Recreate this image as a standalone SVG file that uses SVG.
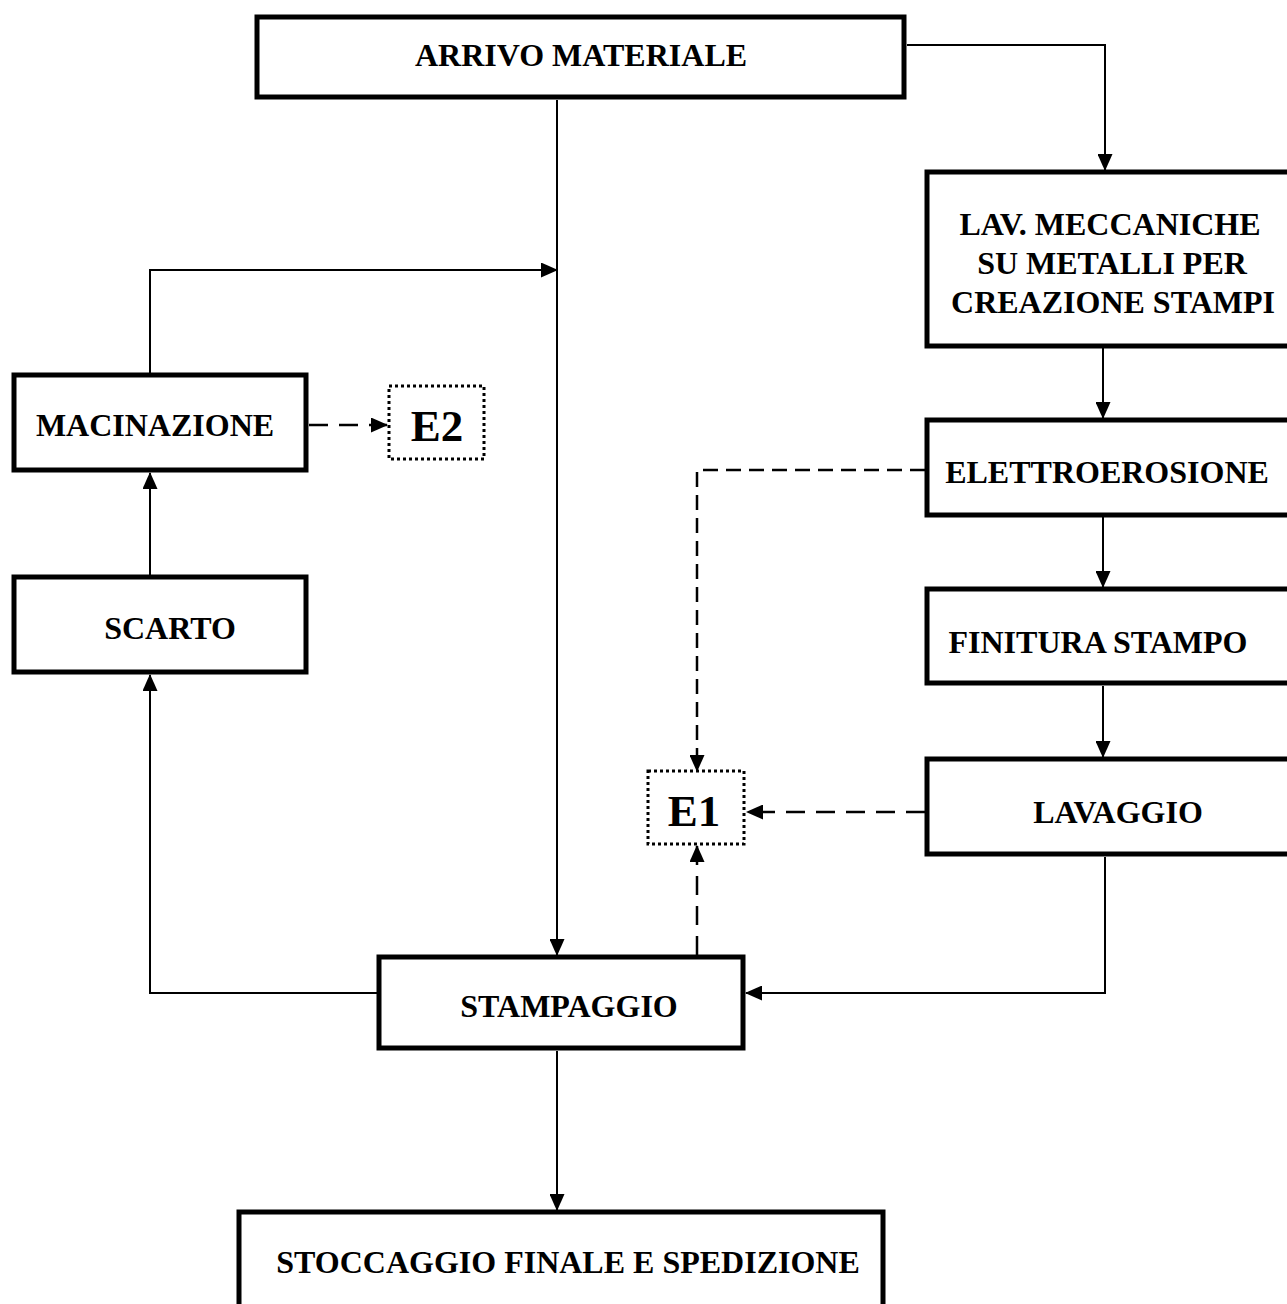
<svg xmlns="http://www.w3.org/2000/svg" width="1287" height="1304" viewBox="0 0 1287 1304">
<style>
.box{fill:#fff;stroke:#000;stroke-width:5}
.dot{fill:#fff;stroke:#000;stroke-width:3;stroke-dasharray:3 3}
.t{font-family:"Liberation Serif","Times New Roman",serif;font-weight:bold;font-size:32px;fill:#000;text-anchor:middle}
.big{font-size:45px}
.ln{fill:none;stroke:#000;stroke-width:2}
.ds{fill:none;stroke:#000;stroke-width:2.5;stroke-dasharray:19 11}
.ds2{fill:none;stroke:#000;stroke-width:2.5;stroke-dasharray:15 8}
</style>
<defs>
<marker id="ah" markerUnits="userSpaceOnUse" markerWidth="17" markerHeight="15" refX="16" refY="7.5" orient="auto">
<path d="M0,0 L17,7.5 L0,15 Z" fill="#000"/>
</marker>
</defs>
<rect width="1287" height="1304" fill="#fff"/>
<g id="connectors">
<path class="ln" d="M907,45 H1105 V170" marker-end="url(#ah)"/>
<path class="ln" d="M1103,348 V418" marker-end="url(#ah)"/>
<path class="ln" d="M1103,517 V587" marker-end="url(#ah)"/>
<path class="ln" d="M1103,686 V757" marker-end="url(#ah)"/>
<path class="ln" d="M1105,857 V993 H746" marker-end="url(#ah)"/>
<path class="ln" d="M557,100 V955" marker-end="url(#ah)"/>
<path class="ln" d="M557,1051 V1210" marker-end="url(#ah)"/>
<path class="ln" d="M377,993 H150 V675" marker-end="url(#ah)"/>
<path class="ln" d="M150,575 V473" marker-end="url(#ah)"/>
<path class="ln" d="M150,373 V270 H557" marker-end="url(#ah)"/>
<path class="ds" d="M309,425 H387" marker-end="url(#ah)"/>
<path class="ds" d="M925,812 H747" marker-end="url(#ah)"/>
<path class="ds" d="M697,955 V846" marker-end="url(#ah)"/>
<path class="ds2" d="M925,470 H697 V771" marker-end="url(#ah)"/>
</g>
<g id="arrivo"><rect class="box" x="257" y="17" width="647" height="80"/><text class="t" x="581" y="66">ARRIVO MATERIALE</text></g>
<g id="lav"><rect class="box" x="927" y="172" width="400" height="174"/>
<text class="t" x="1110" y="235">LAV. MECCANICHE</text>
<text class="t" x="1112" y="274">SU METALLI PER</text>
<text class="t" x="1113" y="313">CREAZIONE STAMPI</text></g>
<g id="elettro"><rect class="box" x="927" y="420" width="400" height="95"/><text class="t" x="1107" y="483">ELETTROEROSIONE</text></g>
<g id="finitura"><rect class="box" x="927" y="589" width="400" height="94"/><text class="t" x="1098" y="653">FINITURA STAMPO</text></g>
<g id="lavaggio"><rect class="box" x="927" y="759" width="400" height="95"/><text class="t" x="1118" y="823">LAVAGGIO</text></g>
<g id="macinazione"><rect class="box" x="14" y="375" width="292" height="95"/><text class="t" x="155" y="436">MACINAZIONE</text></g>
<g id="scarto"><rect class="box" x="14" y="577" width="292" height="95"/><text class="t" x="170" y="639">SCARTO</text></g>
<g id="stampaggio"><rect class="box" x="379" y="957" width="364" height="91"/><text class="t" x="569" y="1017">STAMPAGGIO</text></g>
<g id="stoccaggio"><rect class="box" x="239" y="1212" width="644" height="130"/><text class="t" x="568" y="1273">STOCCAGGIO FINALE E SPEDIZIONE</text></g>
<g id="e2"><rect class="dot" x="389" y="386" width="95" height="73"/><text class="t big" x="437" y="441">E2</text></g>
<g id="e1"><rect class="dot" x="648" y="771" width="96" height="73"/><text class="t big" x="694" y="826">E1</text></g>
</svg>
